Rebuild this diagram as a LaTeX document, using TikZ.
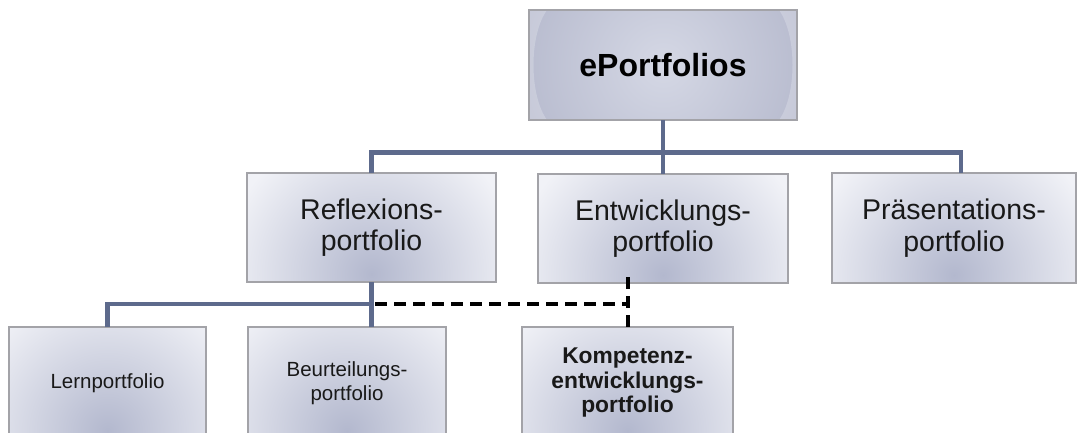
\documentclass[tikz,border=0pt]{standalone}
\usepackage{fontspec}
\setmainfont{Liberation Sans}
\usetikzlibrary{calc}
\definecolor{boxlight}{HTML}{F1F2F7}
\definecolor{boxdark}{HTML}{B3B8CE}
\definecolor{topinner}{HTML}{D5D8E5}
\definecolor{topouter}{HTML}{A6AAC1}
\definecolor{rim}{HTML}{A3A3A8}
\definecolor{linkblue}{HTML}{5D6A8C}
\tikzset{
  card/.style={rectangle, draw=rim, line width=1.2pt, inner sep=0pt, outer sep=0pt,
    fill=boxlight, align=center, text=black!90,
    path picture={
      \shade[inner color=boxdark, outer color=boxlight]
        ($(path picture bounding box.south)+(0,-8)$) circle (150);
    }},
  headcard/.style={rectangle, draw=rim, line width=1.2pt, inner sep=0pt, outer sep=0pt,
    fill=topouter, align=center, text=black,
    path picture={
      \shade[inner color=topinner, outer color=topouter]
        (path picture bounding box.center) circle (230);
      % glossy side crescents
      \fill[white, opacity=0.22]
        (path picture bounding box.north west) --
        ($(path picture bounding box.north west)+(18,0)$)
          .. controls ($(path picture bounding box.west)+(0,-30)$)
          and ($(path picture bounding box.west)+(0,30)$) ..
        ($(path picture bounding box.south west)+(18,0)$) --
        (path picture bounding box.south west) -- cycle;
      \fill[white, opacity=0.22]
        (path picture bounding box.north east) --
        ($(path picture bounding box.north east)+(-18,0)$)
          .. controls ($(path picture bounding box.east)+(0,-30)$)
          and ($(path picture bounding box.east)+(0,30)$) ..
        ($(path picture bounding box.south east)+(-18,0)$) --
        (path picture bounding box.south east) -- cycle;
    }},
  link/.style={draw=linkblue, line width=4.5pt},
  dashlink/.style={draw=black, line width=4pt, dash pattern=on 12pt off 7pt},
  midtext/.style={font=\fontsize{28.5}{31.5}\selectfont},
  lowtext/.style={font=\fontsize{20.5}{24}\selectfont},
  lowbold/.style={font=\fontsize{22.8}{24.5}\selectfont\bfseries},
}
\begin{document}
\begin{tikzpicture}[x=1pt, y=-1pt]
\useasboundingbox (0,0) rectangle (1077,432);
\clip (0,0) rectangle (1077,432);

% root of the hierarchy
\node[headcard, minimum width=268pt, minimum height=110pt,
      font=\fontsize{32}{36}\selectfont\bfseries] (root) at (663,65) {ePortfolios};

% second level
\node[card, midtext, minimum width=249pt, minimum height=109pt] (refl) at (371.5,227.5)
  {Reflexions-\\portfolio};
\node[card, midtext, minimum width=250pt, minimum height=109pt] (entw) at (663,228.5)
  {Entwicklungs-\\portfolio};
\node[card, midtext, minimum width=244pt, minimum height=110pt] (praes) at (954,228)
  {Präsentations-\\portfolio};

% third level
\node[card, lowtext, minimum width=197pt, minimum height=112pt] (lern) at (107.5,383)
  {Lernportfolio};
\node[card, lowtext, minimum width=198pt, minimum height=112pt] (beurt) at (347,383)
  {Beurteilungs-\\portfolio};
\node[card, lowbold, minimum width=211pt, minimum height=112pt] (komp) at (627.5,383)
  {Kompetenz-\\entwicklungs-\\portfolio};

% bus lines
\coordinate (busA) at (663,152.5);
\coordinate (busB) at (372,304);

\draw[link] (root.south) -- (entw.north);
\draw[link] (refl.north) -- (refl.north |- busA) -- ([xshift=7pt]praes.north |- busA)
  -- ([xshift=7pt]praes.north);
\draw[link] (refl.south) -- (refl.south |- beurt.north);
\draw[link] (lern.north) -- (lern.north |- busB) -- (busB);

% dashed link to the competence portfolio
\draw[dashlink] ([xshift=3pt]busB) -- (komp.north |- busB);
\draw[dashlink] ([yshift=6pt]entw.south -| komp.north) -- ([yshift=-6pt]komp.north);
\end{tikzpicture}
\end{document}
